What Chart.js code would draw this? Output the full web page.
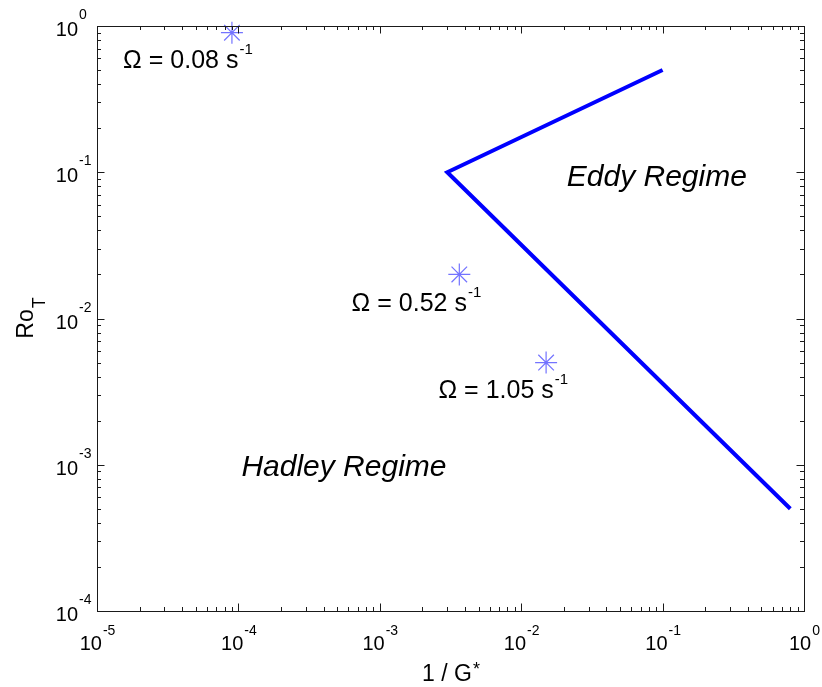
<!DOCTYPE html>
<html>
<head>
<meta charset="utf-8">
<script src="https://cdn.jsdelivr.net/npm/chart.js@4.4.1/dist/chart.umd.min.js"></script>
<style>
	html, body { margin: 0; padding: 0; background: #fff; }
	#regimeChart { display: block; }
</style>
</head>
<body>
<canvas id="regimeChart" width="822" height="687"></canvas>
<script>
// regime boundary (1/G*, Ro_T)
const boundaryX = [0.1, 0.003, 0.8];
const boundaryY = [0.5, 0.1, 0.0005];

// experiments, one per rotation rate
const omegaX = [9e-5, 3.65e-3, 0.015];
const omegaY = [0.9, 0.02, 0.005];
const omegaRates = ["0.08", "0.52", "1.05"];

// decades on each axis
const xExponents = [-5, -4, -3, -2, -1, 0];
const yExponents = [-4, -3, -2, -1, 0];

// where the text labels sit, in data units (left end of baseline)
const omegaTextAt = [
	{ x: 1.53e-5, y: 0.514 },
	{ x: 6.32e-4, y: 0.0113 },
	{ x: 2.6e-3, y: 0.00285 },
];
const regimeText = [
	{ text: "Eddy Regime", x: 0.021, y: 0.0805 },
	{ text: "Hadley Regime", x: 1.05e-4, y: 8.4e-4 },
];

const FONT = "'Liberation Sans', Arial, Helvetica, sans-serif";
const AXIS_COLOR = "#1a1a1a";

function toPoints(xs, ys) {
	return xs.map(function (x, i) {
		return { x: x, y: ys[i] };
	});
}

const matlabAxes = {
	id: "matlabAxes",
	afterDatasetsDraw: function (chart) {
		const ctx = chart.ctx;
		const area = chart.chartArea;
		const xs = chart.scales.x;
		const ys = chart.scales.y;
		const major = 7.5;
		const minor = 4;

		ctx.save();
		ctx.strokeStyle = AXIS_COLOR;
		ctx.lineWidth = 1;

		// box
		ctx.strokeRect(
			Math.round(area.left) + 0.5,
			Math.round(area.top) + 0.5,
			Math.round(area.right - area.left),
			Math.round(area.bottom - area.top)
		);

		// ticks, inward on all four sides
		ctx.beginPath();
		xExponents.forEach(function (e, i) {
			for (let m = 1; m <= 9; m++) {
				if (m > 1 && i === xExponents.length - 1) break;
				const px = Math.round(xs.getPixelForValue(m * Math.pow(10, e))) + 0.5;
				const len = m === 1 ? major : minor;
				ctx.moveTo(px, area.bottom);
				ctx.lineTo(px, area.bottom - len);
				ctx.moveTo(px, area.top);
				ctx.lineTo(px, area.top + len);
			}
		});
		yExponents.forEach(function (e, i) {
			for (let m = 1; m <= 9; m++) {
				if (m > 1 && i === yExponents.length - 1) break;
				const py = Math.round(ys.getPixelForValue(m * Math.pow(10, e))) + 0.5;
				const len = m === 1 ? major : minor;
				ctx.moveTo(area.left, py);
				ctx.lineTo(area.left + len, py);
				ctx.moveTo(area.right, py);
				ctx.lineTo(area.right - len, py);
			}
		});
		ctx.stroke();

		ctx.fillStyle = "#000";
		ctx.textAlign = "left";
		ctx.textBaseline = "alphabetic";

		// x tick labels: 10^e, centred on the tick
		xExponents.forEach(function (e) {
			const px = xs.getPixelForValue(Math.pow(10, e));
			ctx.font = "20px " + FONT;
			const wBase = ctx.measureText("10").width;
			ctx.font = "14px " + FONT;
			const wExp = ctx.measureText(String(e)).width;
			const start = px - (wBase + wExp) / 2;
			ctx.font = "20px " + FONT;
			ctx.fillText("10", start, area.bottom + 39);
			ctx.font = "14px " + FONT;
			ctx.fillText(String(e), start + wBase + 1, area.bottom + 24);
		});

		// y tick labels
		yExponents.forEach(function (e) {
			const py = ys.getPixelForValue(Math.pow(10, e));
			ctx.font = "20px " + FONT;
			ctx.textAlign = "right";
			ctx.fillText("10", area.left - 19, py + 10);
			ctx.font = "14px " + FONT;
			ctx.textAlign = "left";
			ctx.fillText(String(e), area.left - 18, py - 7);
		});

		// x title: 1 / G*
		ctx.font = "23px " + FONT;
		const wTitle = ctx.measureText("1 / G").width;
		ctx.font = "18px " + FONT;
		const wStar = ctx.measureText("*").width;
		const xMid = (area.left + area.right) / 2;
		const tStart = xMid - (wTitle + wStar) / 2;
		ctx.font = "23px " + FONT;
		ctx.fillText("1 / G", tStart, area.bottom + 70);
		ctx.font = "18px " + FONT;
		ctx.fillText("*", tStart + wTitle + 1, area.bottom + 64);

		// y title: Ro_T, rotated
		ctx.font = "23px " + FONT;
		const wRo = ctx.measureText("Ro").width;
		ctx.font = "18px " + FONT;
		const wT = ctx.measureText("T").width;
		const yMid = (area.top + area.bottom) / 2;
		ctx.save();
		ctx.translate(33, yMid + (wRo + wT) / 2);
		ctx.rotate(-Math.PI / 2);
		ctx.font = "23px " + FONT;
		ctx.fillText("Ro", 0, 0);
		ctx.font = "18px " + FONT;
		ctx.fillText("T", wRo + 1, 12);
		ctx.restore();

		// omega labels
		omegaTextAt.forEach(function (p, i) {
			const px = xs.getPixelForValue(p.x);
			const py = ys.getPixelForValue(p.y);
			const main = "\u03A9 = " + omegaRates[i] + " s";
			ctx.font = "25px " + FONT;
			ctx.fillText(main, px, py);
			const w = ctx.measureText(main).width;
			ctx.font = "15px " + FONT;
			ctx.fillText("-1", px + w + 1, py - 14);
		});

		// regime names
		ctx.font = "italic 30px " + FONT;
		regimeText.forEach(function (r) {
			ctx.fillText(r.text, xs.getPixelForValue(r.x), ys.getPixelForValue(r.y));
		});

		ctx.restore();
	},
};

const regimeCanvas = document.getElementById("regimeChart");
const regimeChart = new Chart(regimeCanvas, {
	type: "scatter",
	data: {
		datasets: [
			{
				label: "boundary",
				data: toPoints(boundaryX, boundaryY),
				showLine: true,
				borderColor: "#0000ff",
				borderWidth: 4,
				pointRadius: 0,
				fill: false,
				tension: 0,
			},
			{
				label: "runs",
				data: toPoints(omegaX, omegaY),
				showLine: false,
				pointStyle: "star",
				pointRadius: 11,
				pointBorderColor: "#7373ff",
				pointBackgroundColor: "#7373ff",
				pointBorderWidth: 1.2,
				clip: false,
			},
		],
	},
	options: {
		responsive: false,
		animation: false,
		devicePixelRatio: 1,
		layout: {
			padding: { left: 97, top: 26, right: 18, bottom: 76 },
		},
		scales: {
			x: {
				type: "logarithmic",
				min: 1e-5,
				max: 1,
				display: false,
			},
			y: {
				type: "logarithmic",
				min: 1e-4,
				max: 1,
				display: false,
			},
		},
		plugins: {
			legend: { display: false },
			tooltip: { enabled: false },
		},
	},
	plugins: [matlabAxes],
});
</script>
</body>
</html>
